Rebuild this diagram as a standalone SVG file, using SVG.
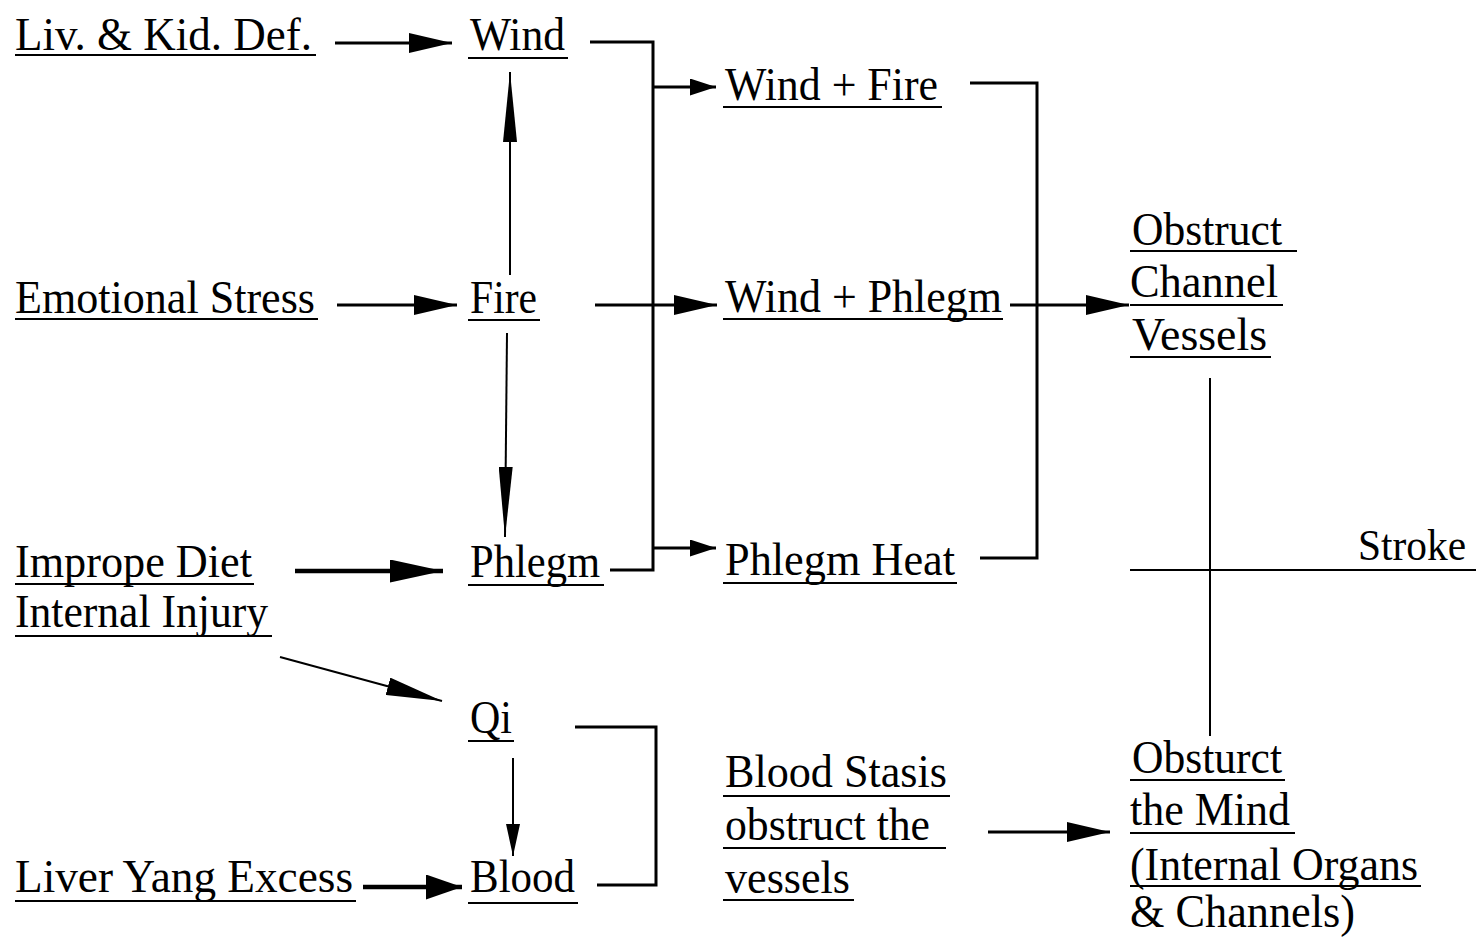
<svg xmlns="http://www.w3.org/2000/svg" width="1476" height="937" viewBox="0 0 1476 937">
<style>
text{font-family:"Liberation Serif","Times New Roman",serif;font-size:47px;fill:#000}
.u{stroke:#000;stroke-width:2}
.c{stroke:#000;stroke-width:3;fill:none}
.k{stroke:#000;stroke-width:4.5;fill:none}
.t{stroke:#000;stroke-width:2;fill:none}
</style>
<defs>
<marker id="ah" markerUnits="userSpaceOnUse" markerWidth="43" markerHeight="20" refX="43" refY="10" orient="auto"><path d="M0,0 L43,10 L0,20 z" fill="#000"/></marker>
<marker id="ahb" markerUnits="userSpaceOnUse" markerWidth="53" markerHeight="23" refX="53" refY="11.5" orient="auto"><path d="M0,0 L53,11.5 L0,23 z" fill="#000"/></marker>
<marker id="ahy" markerUnits="userSpaceOnUse" markerWidth="36" markerHeight="25" refX="36" refY="12.5" orient="auto"><path d="M0,0 L36,12.5 L0,25 z" fill="#000"/></marker>
<marker id="ahs" markerUnits="userSpaceOnUse" markerWidth="26" markerHeight="17" refX="26" refY="8.5" orient="auto"><path d="M0,0 L26,8.5 L0,17 z" fill="#000"/></marker>
<marker id="ahq" markerUnits="userSpaceOnUse" markerWidth="32" markerHeight="14" refX="32" refY="7" orient="auto"><path d="M0,0 L32,7 L0,14 z" fill="#000"/></marker>
<marker id="ahl" markerUnits="userSpaceOnUse" markerWidth="70" markerHeight="14" refX="70" refY="7" orient="auto"><path d="M0,0 L70,7 L0,14 z" fill="#000"/></marker>
<marker id="ahd" markerUnits="userSpaceOnUse" markerWidth="56" markerHeight="18" refX="56" refY="9" orient="auto"><path d="M0,0 L56,9 L0,18 z" fill="#000"/></marker>
</defs>
<rect width="1476" height="937" fill="#fff"/>
<g id="connectors">
<line class="c" x1="335" y1="43" x2="452" y2="43" marker-end="url(#ah)"/>
<line class="c" x1="337" y1="305" x2="457" y2="305" marker-end="url(#ah)"/>
<line class="k" x1="295" y1="571" x2="443" y2="571" marker-end="url(#ahb)"/>
<line class="k" x1="363" y1="887" x2="462" y2="887" marker-end="url(#ahy)"/>
<line class="t" x1="510" y1="275" x2="510" y2="72" marker-end="url(#ahl)"/>
<line class="t" x1="507" y1="333" x2="505" y2="537" marker-end="url(#ahl)"/>
<line class="t" x1="513" y1="758" x2="513" y2="856" marker-end="url(#ahq)"/>
<line class="t" x1="280" y1="657" x2="442" y2="701" marker-end="url(#ahd)"/>
<polyline class="c" points="590,42 653,42 653,570 610,570"/>
<line class="c" x1="653" y1="87" x2="716" y2="87" marker-end="url(#ahs)"/>
<line class="c" x1="595" y1="305" x2="717" y2="305" marker-end="url(#ah)"/>
<line class="c" x1="653" y1="548" x2="716" y2="548" marker-end="url(#ahs)"/>
<polyline class="c" points="970,83 1037,83 1037,558 980,558"/>
<line class="c" x1="1010" y1="305" x2="1129" y2="305" marker-end="url(#ah)"/>
<polyline class="c" points="575,727 656,727 656,885 597,885"/>
<line class="c" x1="988" y1="832" x2="1110" y2="832" marker-end="url(#ah)"/>
<line class="t" x1="1210" y1="378" x2="1210" y2="736"/>
<line class="t" x1="1130" y1="570" x2="1476" y2="570"/>
</g>
<g id="n-livkid"><text x="15" y="50" textLength="297" lengthAdjust="spacingAndGlyphs">Liv. &amp; Kid. Def.</text><line class="u" x1="15" y1="55" x2="316" y2="55"/></g>
<g id="n-wind"><text x="470" y="50" textLength="95" lengthAdjust="spacingAndGlyphs">Wind</text><line class="u" x1="468" y1="58" x2="568" y2="58"/></g>
<g id="n-emotional"><text x="15" y="313" textLength="300" lengthAdjust="spacingAndGlyphs">Emotional Stress</text><line class="u" x1="15" y1="319" x2="318" y2="319"/></g>
<g id="n-fire"><text x="470" y="313" textLength="67" lengthAdjust="spacingAndGlyphs">Fire</text><line class="u" x1="468" y1="320" x2="540" y2="320"/></g>
<g id="n-diet"><text x="15" y="577" textLength="237" lengthAdjust="spacingAndGlyphs">Imprope Diet</text><line class="u" x1="15" y1="584" x2="254" y2="584"/><text x="15" y="627" textLength="253" lengthAdjust="spacingAndGlyphs">Internal Injury</text><line class="u" x1="15" y1="636" x2="272" y2="636"/></g>
<g id="n-phlegm"><text x="470" y="577" textLength="130" lengthAdjust="spacingAndGlyphs">Phlegm</text><line class="u" x1="468" y1="585" x2="604" y2="585"/></g>
<g id="n-qi"><text x="470" y="733" textLength="42" lengthAdjust="spacingAndGlyphs">Qi</text><line class="u" x1="468" y1="741" x2="514" y2="741"/></g>
<g id="n-liveryang"><text x="15" y="892" textLength="338" lengthAdjust="spacingAndGlyphs">Liver Yang Excess</text><line class="u" x1="15" y1="901" x2="356" y2="901"/></g>
<g id="n-blood"><text x="470" y="892" textLength="105" lengthAdjust="spacingAndGlyphs">Blood</text><line class="u" x1="468" y1="903" x2="578" y2="903"/></g>
<g id="n-windfire"><text x="725" y="100" textLength="213" lengthAdjust="spacingAndGlyphs">Wind + Fire</text><line class="u" x1="723" y1="107" x2="942" y2="107"/></g>
<g id="n-windphlegm"><text x="725" y="312" textLength="277" lengthAdjust="spacingAndGlyphs">Wind + Phlegm</text><line class="u" x1="723" y1="319" x2="1003" y2="319"/></g>
<g id="n-phlegmheat"><text x="725" y="575" textLength="230" lengthAdjust="spacingAndGlyphs">Phlegm Heat</text><line class="u" x1="723" y1="583" x2="957" y2="583"/></g>
<g id="n-bloodstasis"><text x="725" y="787" textLength="222" lengthAdjust="spacingAndGlyphs">Blood Stasis</text><line class="u" x1="723" y1="796" x2="950" y2="796"/><text x="725" y="840" textLength="205" lengthAdjust="spacingAndGlyphs">obstruct the</text><line class="u" x1="723" y1="848" x2="946" y2="848"/><text x="725" y="893" textLength="125" lengthAdjust="spacingAndGlyphs">vessels</text><line class="u" x1="723" y1="900" x2="854" y2="900"/></g>
<g id="n-obstruct"><text x="1132" y="245" textLength="150" lengthAdjust="spacingAndGlyphs">Obstruct</text><line class="u" x1="1130" y1="251" x2="1297" y2="251"/><text x="1130" y="297" textLength="148" lengthAdjust="spacingAndGlyphs">Channel</text><line class="u" x1="1130" y1="305" x2="1283" y2="305"/><text x="1132" y="350" textLength="135" lengthAdjust="spacingAndGlyphs">Vessels</text><line class="u" x1="1130" y1="357" x2="1271" y2="357"/></g>
<g id="n-stroke"><text x="1358" y="560" style="font-size:44px" textLength="108" lengthAdjust="spacingAndGlyphs">Stroke</text></g>
<g id="n-mind"><text x="1132" y="773" textLength="150" lengthAdjust="spacingAndGlyphs">Obsturct</text><line class="u" x1="1130" y1="780" x2="1285" y2="780"/><text x="1130" y="825" textLength="160" lengthAdjust="spacingAndGlyphs">the Mind</text><line class="u" x1="1130" y1="833" x2="1295" y2="833"/><text x="1130" y="880" textLength="288" lengthAdjust="spacingAndGlyphs">(Internal Organs</text><line class="u" x1="1130" y1="886" x2="1421" y2="886"/><text x="1130" y="927" textLength="225" lengthAdjust="spacingAndGlyphs">&amp; Channels)</text></g>
</svg>
